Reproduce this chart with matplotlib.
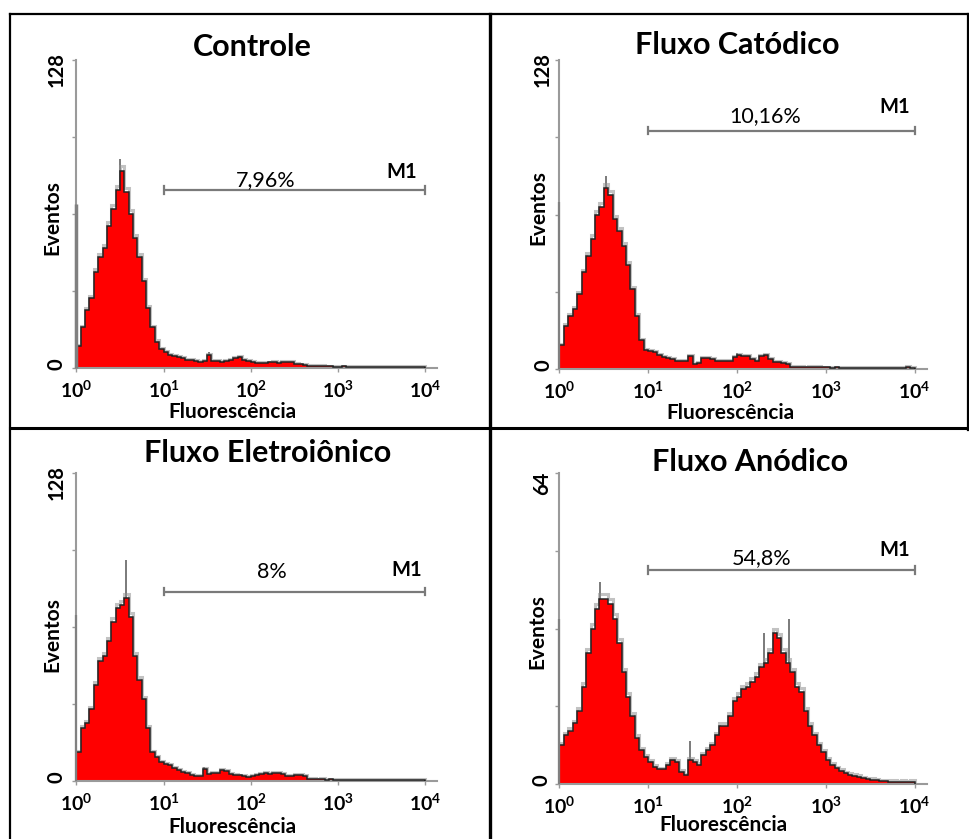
import matplotlib
matplotlib.use("Agg")
import matplotlib.pyplot as plt
import numpy as np
from matplotlib.lines import Line2D
from matplotlib.ticker import NullLocator

plt.rcParams['font.family'] = ['Lato', 'DejaVu Sans']
plt.rcParams['mathtext.fontset'] = 'custom'
plt.rcParams['mathtext.rm'] = 'Lato:bold'
plt.rcParams['mathtext.it'] = 'Lato:bold'
plt.rcParams['mathtext.bf'] = 'Lato:bold'

# ---- data -----------------------------------------------------------------
# histogram channels: start of each bin in log10(fluorescence), width 0.05 decade
bin_step = 0.05

controle = [9, 17, 24, 29, 40, 46, 50, 59, 66, 74,
            82, 73, 64, 54, 46, 36, 25, 17, 11, 8,
            6.5, 5.5, 5, 4.5, 4, 3.5, 3.2, 3, 2.5, 3,
            5.5, 3, 2.8, 2.5, 3, 3.5, 4, 4.5, 3.5, 3,
            2.5, 2, 2, 2, 2.3, 2.5, 2.2, 2.6, 2.4, 2.5,
            1.8, 1.5, 1.2, 1, 0.9, 0.8, 0.8, 0.7, 0.7, 0.6,
            0.6, 0.7, 0.5, 0.6, 0.5, 0.6, 0.5, 0.4, 0.5, 0.6,
            0.5, 0.4, 0.5, 0.4, 0.5, 0.4, 0.5, 0.4, 0.4, 0.5]

catodico = [10, 18, 22, 25, 31, 40, 47, 54, 64, 67,
            75, 72, 62, 57, 51, 43, 33, 22, 12, 8,
            7.5, 7, 6, 5, 4.7, 4, 3.5, 3.2, 3.5, 5.3,
            2, 2.5, 4.5, 4.7, 4, 3.5, 3.2, 3.2, 3.5, 5,
            6, 5.5, 5.3, 4, 3.5, 5.5, 6, 4, 3, 3,
            2.5, 2, 1, 0.8, 0.9, 0.7, 0.8, 0.9, 0.8, 0.7,
            0.7, 0.6, 0.7, 0.6, 0.5, 0.6, 0.5, 0.6, 0.5, 0.5,
            0.5, 0.4, 0.5, 0.4, 0.5, 0.4, 0.5, 0.6, 0.8, 0.5]

eletroionico = [12, 22, 24, 30, 40, 50, 52, 58, 66, 72,
                73, 76, 68, 52, 42, 34, 22, 12, 10, 8,
                7, 6.5, 5.5, 4.5, 3.8, 3.3, 2.5, 2, 2.2, 5,
                3, 3.5, 3.5, 4.5, 4, 3, 2.5, 2.3, 2, 1.8,
                2, 2.5, 3, 3.3, 3, 3.2, 3.3, 2.8, 2.2, 2.2,
                2.5, 2.5, 2, 1, 0.8, 0.7, 0.8, 0.6, 0.7, 0.6,
                0.6, 0.5, 0.6, 0.5, 0.5, 0.6, 0.5, 0.5, 0.4, 0.5,
                0.4, 0.5, 0.4, 0.5, 0.4, 0.5, 0.4, 0.5, 0.4, 0.6]

anodico = [8, 10, 11, 12.5, 15, 20, 27, 32, 36, 38,
           38, 37, 34, 29, 23, 18, 14, 9.5, 7, 5.5,
           4.5, 3.5, 3, 3, 4, 5, 4.5, 2.5, 1.8, 5,
           4.5, 4, 6, 7, 8, 10, 12, 12, 14, 17,
           18, 19.5, 20, 21, 22, 24, 25, 27, 31, 30,
           27, 25, 23, 20, 19, 15, 12, 10, 8, 6.5,
           5, 4, 3.2, 2.7, 2.2, 1.9, 1.7, 1.5, 1.2, 1.0,
           0.9, 0.8, 0.6, 0.6, 0.5, 0.5, 0.4, 0.5, 0.4, 0.5]

# single-channel spikes (log10 position, count)
spikes_controle = [(0.50, 87), (1.52, 6.5), (1.88, 5)]
spikes_catodico = [(0.52, 80), (2.00, 6.5)]
spikes_eletro = [(0.57, 92), (1.46, 6)]
spikes_anodico = [(0.46, 41.5), (1.47, 8.8), (2.30, 31), (2.58, 34)]

# tall first channel (pile-up at the axis)
first_channel = [68, 69, 69, 34]

titles = ['Controle', 'Fluxo Catódico', 'Fluxo Eletroiônico', 'Fluxo Anódico']
y_max = [128, 128, 128, 64]
m1_percent = ['7,96%', '10,16%', '8%', '54,8%']
m1_level = [74, 98.7, 78.7, 44]   # height of the M1 marker, in counts
m1_start = 10
m1_end = 10000
xtick_vals = [1, 10, 100, 1000, 10000]
xtick_labels = [r'$10^{0}$', r'$10^{1}$', r'$10^{2}$', r'$10^{3}$', r'$10^{4}$']

hists = [controle, catodico, eletroionico, anodico]
spikes = [spikes_controle, spikes_catodico, spikes_eletro, spikes_anodico]

# ---- layout (pixels of a 970x839 canvas) ----------------------------------
W, H = 970, 839
def fx(px):
    return px / W
def fy(py):
    return 1 - py / H

# x0, x1 (axis extent), y0 (zero line), y1 (top of axis)
boxes = [(76, 437, 368, 60), (559, 927, 369, 60),
         (76, 437, 781, 473), (559, 927, 784, 473)]
title_pos = [(252, 47), (737, 45), (268, 453), (750, 462)]
ylab_pos = [(52, 218), (538, 208), (52, 635), (537, 632)]
xlab_pos = [(232, 412), (730, 413), (232, 827), (723, 825)]
pct_pos = [(266, 180), (765, 116), (272, 572), (762, 558)]
m1_pos = [(402, 172), (895, 107), (407, 570), (895, 550)]

fig = plt.figure(figsize=(W / 100, H / 100), dpi=100)

for i in range(4):
    x0, x1, y0, y1 = boxes[i]
    ax = fig.add_axes([fx(x0), fy(y0), (x1 - x0) / W, (y0 - y1) / H])
    counts = np.array(hists[i], dtype=float)
    edges = 10 ** (np.arange(len(counts) + 1) * bin_step)

    for d, c in spikes[i]:
        ax.vlines(10 ** d, 0, c, color='#707070', lw=1.3, zorder=1)
    ax.stairs(counts * 1.02 + 0.3, edges, color='#909090', lw=2.2, alpha=0.55, zorder=1)
    ax.stairs(counts, edges, fill=True, color='#ff0000', zorder=2)
    ax.stairs(counts, edges, color='#222222', lw=1.1, zorder=3)
    ax.vlines(1.0, 0, first_channel[i], color='#808080',
              lw=2.5 if i == 0 else 1.6, clip_on=False, zorder=5)

    # M1 marker
    ax.hlines(m1_level[i], m1_start, m1_end, color='#7a7a7a', lw=1.6)
    for xe in (m1_start, m1_end):
        ax.plot([xe, xe], [m1_level[i] - 0.012 * y_max[i], m1_level[i] + 0.012 * y_max[i]],
                color='#7a7a7a', lw=1.6)

    ax.set_xscale('log')
    ax.set_xlim(10 ** -0.005, 10 ** 4.14)
    ax.set_ylim(0, y_max[i])
    ax.xaxis.set_minor_locator(NullLocator())
    ax.set_xticks(xtick_vals)
    ax.set_xticklabels(xtick_labels, fontsize=14)
    ax.set_yticks(np.linspace(0, y_max[i], 5))
    ax.set_yticklabels([])
    ax.tick_params(axis='both', length=3, width=1, color='#9a9a9a')
    ax.tick_params(axis='x', pad=5)
    for s in ('top', 'right'):
        ax.spines[s].set_visible(False)
    for s in ('left', 'bottom'):
        ax.spines[s].set_color('#9a9a9a')
        ax.spines[s].set_linewidth(1.5)
    ax.patch.set_alpha(0)

    fig.text(fx(title_pos[i][0]), fy(title_pos[i][1]), titles[i],
             fontsize=22, fontweight='bold', ha='center', va='center')
    fig.text(fx(ylab_pos[i][0]), fy(ylab_pos[i][1]), 'Eventos', rotation=90,
             fontsize=15, fontweight='bold', ha='center', va='center')
    fig.text(fx(ylab_pos[i][0] + 5), fy(y0 - 4), '0', rotation=90,
             fontsize=14.5, fontweight='bold', ha='center', va='center')
    fig.text(fx(ylab_pos[i][0] + 5), fy(y1 + 10), str(y_max[i]), rotation=90,
             fontsize=14.5, fontweight='bold', ha='center', va='center')
    fig.text(fx(xlab_pos[i][0]), fy(xlab_pos[i][1]), 'Fluorescência',
             fontsize=15, fontweight='bold', ha='center', va='center')
    fig.text(fx(pct_pos[i][0]), fy(pct_pos[i][1]), m1_percent[i],
             fontsize=15.5, ha='center', va='center')
    fig.text(fx(m1_pos[i][0]), fy(m1_pos[i][1]), 'M1',
             fontsize=14.5, fontweight='bold', ha='center', va='center')

# panel frames
def frame(xa, ya, xb, yb, lw):
    fig.add_artist(Line2D([fx(xa), fx(xb)], [fy(ya), fy(yb)], color='black', lw=lw))

frame(10, 14, 969, 14, 1.6)
frame(10, 14, 10, 839, 1.6)
frame(968, 14, 968, 430, 1.6)
frame(490, 14, 490, 839, 2.4)
frame(10, 428, 969, 428, 2.2)

fig.savefig('out.png', dpi=100)
